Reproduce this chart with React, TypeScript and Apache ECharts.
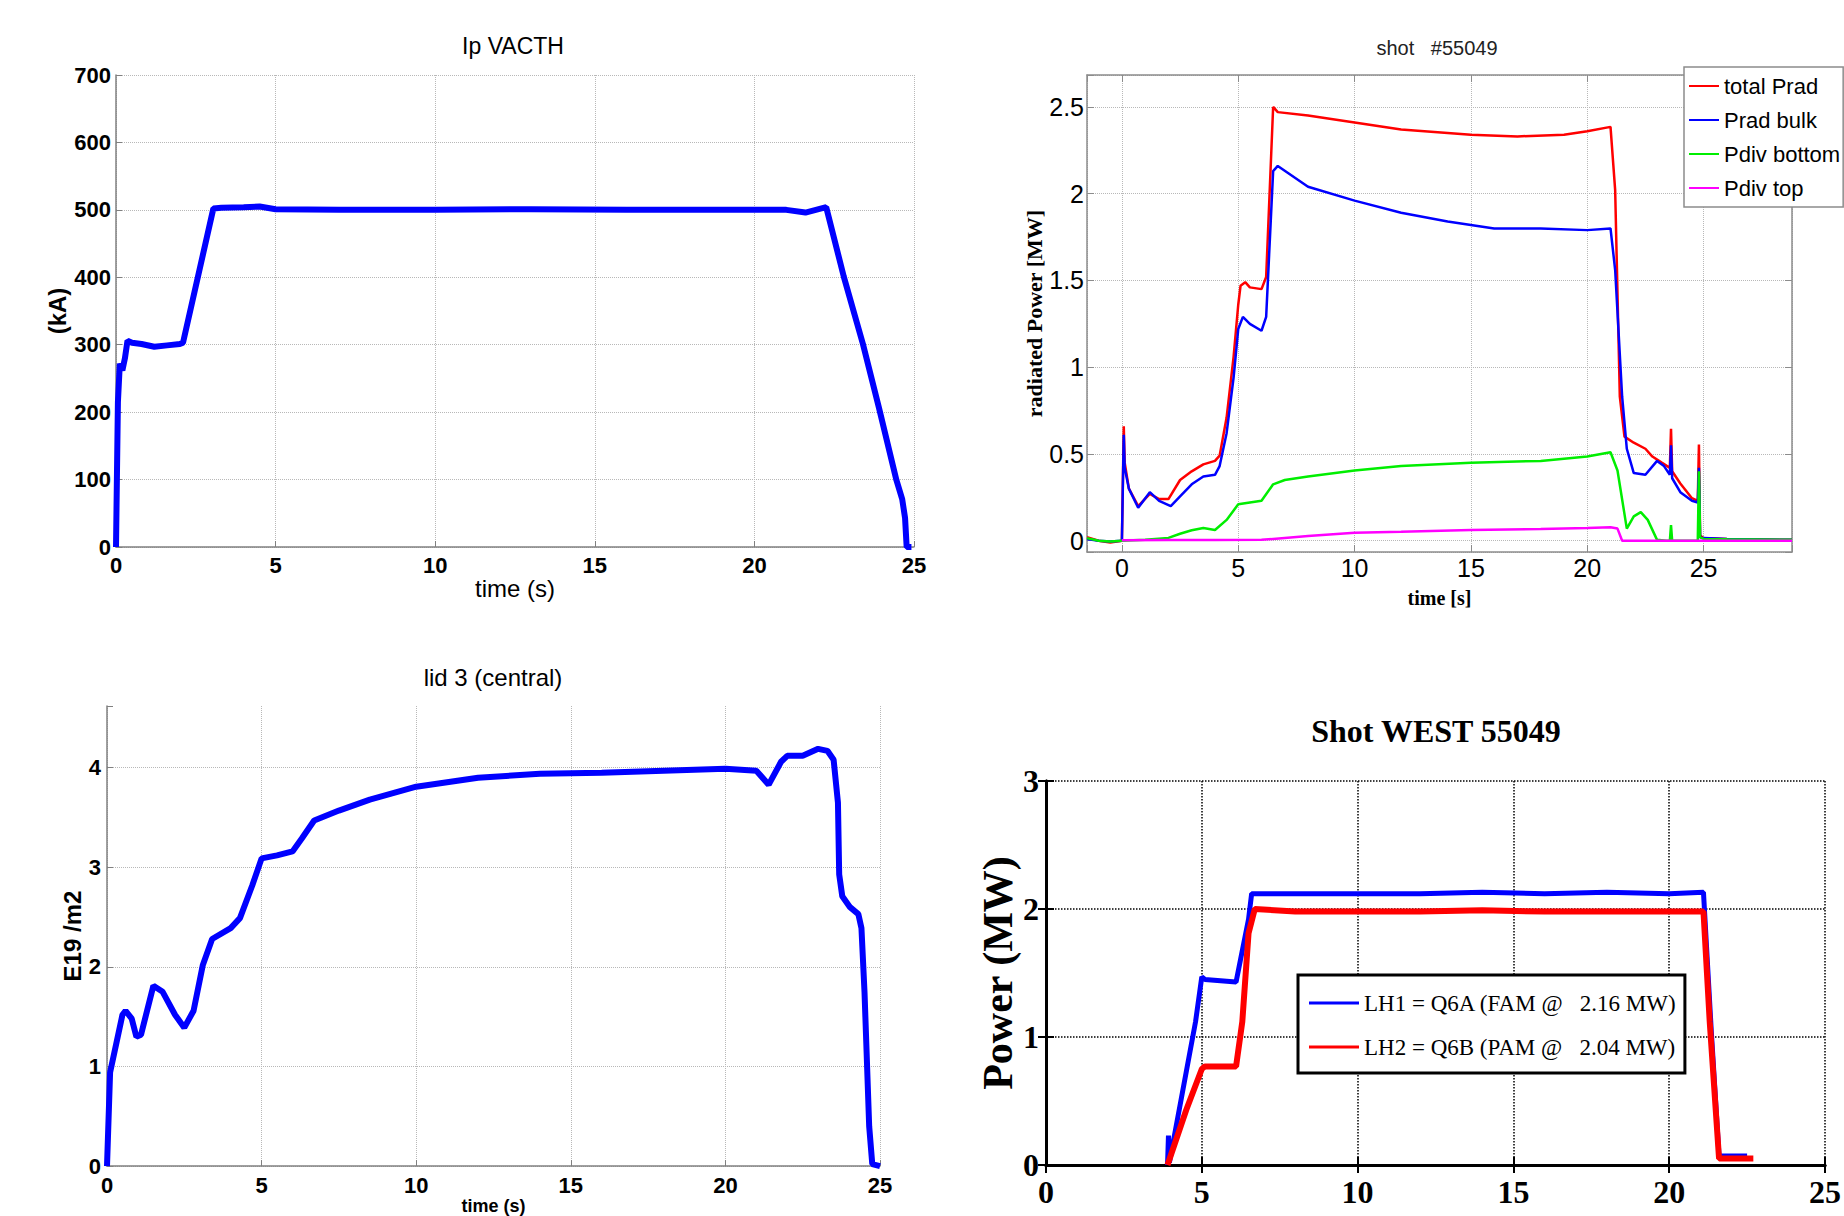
import { useEffect, useRef } from "react";
import * as echarts from "echarts";

// ---------- Top-left: Ip VACTH (kA vs time s) ----------
const ipTime = [0, 0.06, 0.12, 0.2, 0.28, 0.36, 0.5, 0.8, 1.2, 1.6, 2.0, 2.1, 3.05, 3.3, 4.0, 4.5, 5.0, 7, 10, 13, 16, 19, 21, 21.6, 22.25, 22.8, 23.4, 23.9, 24.45, 24.63, 24.72, 24.77, 24.92];
const ipValue = [0, 215, 272, 262, 280, 306, 303, 301, 297, 299, 301, 303, 502, 503, 504, 505, 501, 500, 500, 501, 500, 500, 500, 496, 504, 401, 301, 207, 99, 71, 43, 0, 0];

// ---------- Top-right: radiated power (MW vs time s) ----------
const pradTime = [-1.5, -1.0, -0.5, 0, 0.08, 0.12, 0.3, 0.7, 1.2, 1.6, 2.0, 2.5, 3.0, 3.5, 4.0, 4.2, 4.5, 4.8, 5.0, 5.1, 5.3, 5.5, 6.0, 6.2, 6.5, 6.7, 8, 10, 12, 15, 17, 19, 20, 21, 21.2, 21.4, 21.6, 22, 22.5, 22.8, 23.2, 23.55, 23.6, 23.65, 24, 24.5, 24.75, 24.8, 24.85, 25, 26, 28.8];
const pradValue = [0.02, 0.0, -0.01, 0.0, 0.66, 0.45, 0.3, 0.2, 0.27, 0.24, 0.24, 0.35, 0.4, 0.44, 0.46, 0.49, 0.71, 1.06, 1.36, 1.47, 1.49, 1.46, 1.45, 1.52, 2.5, 2.47, 2.45, 2.41, 2.37, 2.34, 2.33, 2.34, 2.36, 2.385, 2.02, 0.83, 0.6, 0.565, 0.53, 0.485, 0.45, 0.42, 0.645, 0.4, 0.33, 0.245, 0.23, 0.555, 0.03, 0.015, 0.01, 0.005];

const bulkTime = [-1.5, -1.0, -0.5, 0, 0.08, 0.12, 0.3, 0.7, 1.2, 1.6, 2.1, 2.5, 3.0, 3.5, 4.0, 4.2, 4.5, 4.8, 5.0, 5.2, 5.5, 6.0, 6.2, 6.5, 6.7, 8, 10, 12, 14, 16, 18, 20, 21, 21.2, 21.5, 21.7, 22, 22.5, 23, 23.3, 23.55, 23.6, 23.65, 24, 24.5, 24.75, 24.8, 24.85, 25, 26, 28.8];
const bulkValue = [0.01, 0.0, -0.005, 0.0, 0.61, 0.42, 0.3, 0.19, 0.28, 0.23, 0.2, 0.256, 0.325, 0.37, 0.38, 0.43, 0.62, 0.94, 1.22, 1.29, 1.25, 1.21, 1.29, 2.13, 2.16, 2.04, 1.96, 1.89, 1.84, 1.8, 1.8, 1.79, 1.8, 1.56, 0.83, 0.53, 0.39, 0.38, 0.46, 0.43, 0.38, 0.55, 0.36, 0.28, 0.23, 0.22, 0.42, 0.02, 0.015, 0.01, 0.005];

const divBottomTime = [-1.5, -1.0, -0.5, 0, 1, 2, 2.5, 3, 3.5, 4, 4.5, 5, 5.5, 6, 6.5, 7, 8, 10, 12, 15, 18, 20, 21, 21.3, 21.7, 22, 22.3, 22.6, 23, 23.4, 23.55, 23.6, 23.65, 24.75, 24.8, 24.85, 25, 26, 28.8];
const divBottomValue = [0.015, 0.0, -0.005, 0.0, 0.005, 0.016, 0.04, 0.06, 0.073, 0.062, 0.12, 0.21, 0.22, 0.23, 0.325, 0.35, 0.37, 0.405, 0.43, 0.45, 0.46, 0.485, 0.51, 0.405, 0.07, 0.14, 0.165, 0.12, 0.005, 0, 0, 0.09, 0, 0, 0.4, 0.02, 0.01, 0.008, 0.005];

const divTopTime = [0, 2, 4, 6, 7, 8, 10, 12, 15, 18, 20, 21, 21.3, 21.5, 25, 28.8];
const divTopValue = [0.003, 0.004, 0.004, 0.005, 0.016, 0.027, 0.046, 0.052, 0.062, 0.068, 0.073, 0.078, 0.07, 0.0, 0.0, 0.0];

// ---------- Bottom-left: lid 3 (central) density ----------
const nlTime = [0, 0.1, 0.3, 0.5, 0.6, 0.8, 0.95, 1.1, 1.5, 1.8, 2.2, 2.5, 2.8, 3.1, 3.4, 4.0, 4.3, 4.7, 5.0, 5.5, 6.0, 6.3, 6.7, 7.5, 8.5, 10, 12, 14, 16, 18, 20, 21, 21.4, 21.8, 22, 22.5, 23, 23.3, 23.5, 23.64, 23.68, 23.78, 24.03, 24.3, 24.4, 24.5, 24.65, 24.75, 25];
const nlValue = [0, 0.94, 1.23, 1.52, 1.56, 1.48, 1.3, 1.32, 1.81, 1.75, 1.52, 1.39, 1.56, 2.02, 2.28, 2.39, 2.49, 2.82, 3.09, 3.12, 3.16, 3.29, 3.47, 3.57, 3.68, 3.81, 3.9, 3.94, 3.95, 3.97, 3.99, 3.97, 3.83, 4.06, 4.12, 4.12, 4.19, 4.17, 4.08, 3.65, 2.93, 2.71, 2.6, 2.53, 2.39, 1.74, 0.4, 0.02, 0];

// ---------- Bottom-right: LH power ----------
const lh1Time = [3.9, 3.93, 3.96, 4.0, 4.8, 5.0, 5.1, 6.1, 6.5, 6.6, 8, 10, 12, 14, 16, 18, 20, 21.1, 21.35, 21.6, 21.7, 22.5];
const lh1Value = [0, 0.23, 0.02, 0.07, 1.12, 1.47, 1.45, 1.43, 1.92, 2.12, 2.12, 2.12, 2.12, 2.13, 2.12, 2.13, 2.12, 2.13, 1.05, 0.07, 0.07, 0.07];
const lh2Time = [3.9, 4.5, 5.0, 5.1, 6.1, 6.3, 6.5, 6.7, 8, 10, 12, 14, 16, 18, 20, 21.1, 21.3, 21.6, 22.7];
const lh2Value = [0, 0.43, 0.75, 0.77, 0.77, 1.12, 1.81, 2.0, 1.98, 1.98, 1.98, 1.99, 1.98, 1.98, 1.98, 1.98, 1.12, 0.05, 0.05];

const sradNames = ["total Prad", "Prad bulk", "Pdiv bottom", "Pdiv top"];
const lhNames = ["LH1 = Q6A (FAM @   2.16 MW)", "LH2 = Q6B (PAM @   2.04 MW)"];

const SANS = "'Liberation Sans', Arial, Helvetica, sans-serif";
const SERIF = "'Liberation Serif', 'Times New Roman', serif";

function pairs(t: number[], v: number[]) {
  return t.map((x, i) => [x, v[i]]);
}
function multipleOf(step: number) {
  return (v: number) => {
    const k = v / step;
    return Math.abs(k - Math.round(k)) < 1e-6 ? String(Math.round(k) * step) : "";
  };
}

function buildOption(): any {
  const grayAxis = "#808080";
  const dotted = { show: true, lineStyle: { type: "dotted", color: "#b8b8b8", width: 1 } };
  const boldSans = (size: number) => ({ fontFamily: SANS, fontSize: size, fontWeight: "bold", color: "#000" });

  const title = (text: string, x: number, y: number, size: number, family: string, weight: string, fill = "#000") => ({
    type: "text",
    x,
    y,
    style: { text, fontSize: size, fontFamily: family, fontWeight: weight, fill, align: "center", verticalAlign: "middle" },
  });

  return {
    animation: false,
    backgroundColor: "#ffffff",
    graphic: [
      title("Ip VACTH", 513, 46, 23, SANS, "normal"),
      title("shot   #55049", 1437, 48, 20, SANS, "normal", "#222"),
      title("lid 3 (central)", 493, 677, 24, SANS, "normal"),
      title("Shot WEST 55049", 1436, 731, 32, SERIF, "bold"),
    ],
    grid: [
      { left: 116, top: 75, width: 798, height: 472 },
      { left: 1087, top: 75, width: 705, height: 477 },
      { left: 107, top: 706, width: 773, height: 472 },
      { left: 1046, top: 781, width: 785, height: 384 },
    ],
    xAxis: [
      {
        gridIndex: 0, type: "value", min: 0, max: 25, interval: 5,
        axisLine: { show: true, lineStyle: { color: grayAxis, width: 1.5 } },
        axisTick: { show: true, inside: true, length: 6, lineStyle: { color: grayAxis } },
        axisLabel: { ...boldSans(22), margin: 7 },
        splitLine: dotted,
        name: "time (s)", nameLocation: "middle", nameGap: 19,
        nameTextStyle: { fontFamily: SANS, fontSize: 24, color: "#000" },
      },
      {
        gridIndex: 1, type: "value", min: -1.5, max: 28.8, minInterval: 5, maxInterval: 5,
        axisLine: { show: true, onZero: false, lineStyle: { color: "#8c8c8c", width: 1.5 } },
        axisTick: { show: true, inside: true, length: 7, lineStyle: { color: "#8c8c8c" } },
        axisLabel: { fontFamily: SANS, fontSize: 25, color: "#000", margin: 3, formatter: multipleOf(5) },
        splitLine: dotted,
        name: "time [s]", nameLocation: "middle", nameGap: 36,
        nameTextStyle: { fontFamily: SERIF, fontSize: 20, fontWeight: "bold", color: "#000" },
      },
      {
        gridIndex: 1, type: "value", position: "top", min: -1.5, max: 28.8, minInterval: 5, maxInterval: 5,
        axisLine: { show: true, onZero: false, lineStyle: { color: "#8c8c8c", width: 1.5 } },
        axisTick: { show: true, inside: true, length: 7, lineStyle: { color: "#8c8c8c" } },
        axisLabel: { show: false }, splitLine: { show: false },
      },
      {
        gridIndex: 2, type: "value", min: 0, max: 25, interval: 5,
        axisLine: { show: true, lineStyle: { color: grayAxis, width: 1.5 } },
        axisTick: { show: true, inside: true, length: 6, lineStyle: { color: grayAxis } },
        axisLabel: { ...boldSans(22), margin: 8 },
        splitLine: dotted,
        name: "time (s)", nameLocation: "middle", nameGap: 25,
        nameTextStyle: { fontFamily: SANS, fontSize: 18, fontWeight: "bold", color: "#000" },
      },
      {
        gridIndex: 3, type: "value", min: 0, max: 25, interval: 5,
        axisLine: { show: true, lineStyle: { color: "#000", width: 3 } },
        axisTick: { show: true, inside: true, length: 8, lineStyle: { color: "#000", width: 2 } },
        axisLabel: { fontFamily: SERIF, fontSize: 32, fontWeight: "bold", color: "#000", margin: 11 },
        splitLine: { show: true, lineStyle: { type: "dotted", color: "#000", width: 1.5 } },
      },
      {
        gridIndex: 3, type: "value", position: "top", min: 0, max: 25, interval: 5,
        axisLine: { show: true, lineStyle: { color: "#000", width: 3 } },
        axisTick: { show: true, inside: true, length: 8, lineStyle: { color: "#000", width: 2 } },
        axisLabel: { show: false }, splitLine: { show: false },
      },
    ],
    yAxis: [
      {
        gridIndex: 0, type: "value", min: 0, max: 700, interval: 100,
        axisLine: { show: true, lineStyle: { color: grayAxis, width: 1.5 } },
        axisTick: { show: true, inside: true, length: 6, lineStyle: { color: grayAxis } },
        axisLabel: { ...boldSans(22), margin: 5 },
        splitLine: dotted,
        name: "(kA)", nameLocation: "middle", nameGap: 47,
        nameTextStyle: { fontFamily: SANS, fontSize: 24, fontWeight: "bold", color: "#000" },
      },
      {
        gridIndex: 1, type: "value", min: -0.065, max: 2.684, minInterval: 0.5, maxInterval: 0.5,
        axisLine: { show: true, onZero: false, lineStyle: { color: "#8c8c8c", width: 1.5 } },
        axisTick: { show: true, inside: true, length: 7, lineStyle: { color: "#8c8c8c" } },
        axisLabel: { fontFamily: SANS, fontSize: 25, color: "#000", margin: 3, formatter: multipleOf(0.5) },
        splitLine: dotted,
        name: "radiated Power [MW]", nameLocation: "middle", nameGap: 36,
        nameTextStyle: { fontFamily: SERIF, fontSize: 22, fontWeight: "bold", color: "#000" },
      },
      {
        gridIndex: 1, type: "value", position: "right", min: -0.065, max: 2.684, minInterval: 0.5, maxInterval: 0.5,
        axisLine: { show: true, onZero: false, lineStyle: { color: "#8c8c8c", width: 1.5 } },
        axisTick: { show: true, inside: true, length: 7, lineStyle: { color: "#8c8c8c" } },
        axisLabel: { show: false }, splitLine: { show: false },
      },
      {
        gridIndex: 2, type: "value", min: 0, max: 4.62, minInterval: 1, maxInterval: 1,
        axisLine: { show: true, lineStyle: { color: grayAxis, width: 1.5 } },
        axisTick: { show: true, inside: true, length: 6, lineStyle: { color: grayAxis } },
        axisLabel: { ...boldSans(22), margin: 6, formatter: multipleOf(1) },
        splitLine: { ...dotted, showMaxLine: false },
        name: "E19 /m2", nameLocation: "middle", nameGap: 20,
        nameTextStyle: { fontFamily: SANS, fontSize: 24, fontWeight: "bold", color: "#000" },
      },
      {
        gridIndex: 3, type: "value", min: 0, max: 3, interval: 1,
        axisLine: { show: true, lineStyle: { color: "#000", width: 3 } },
        axisTick: { show: true, inside: true, length: 8, lineStyle: { color: "#000", width: 2 } },
        axisLabel: { fontFamily: SERIF, fontSize: 32, fontWeight: "bold", color: "#000", margin: 7 },
        splitLine: { show: true, lineStyle: { type: "dotted", color: "#000", width: 1.5 } },
        name: "Power (MW)", nameLocation: "middle", nameGap: 19,
        nameTextStyle: { fontFamily: SERIF, fontSize: 42, fontWeight: "bold", color: "#000" },
      },
      {
        gridIndex: 3, type: "value", position: "right", min: 0, max: 3, interval: 1,
        axisLine: { show: true, lineStyle: { color: "#000", width: 3 } },
        axisTick: { show: true, inside: true, length: 8, lineStyle: { color: "#000", width: 2 } },
        axisLabel: { show: false }, splitLine: { show: false },
      },
    ],
    legend: [
      {
        data: sradNames, left: 1684, top: 67, orient: "vertical", selectedMode: false,
        icon: "rect", itemWidth: 30, itemHeight: 2, itemGap: 8,
        padding: [6, 3, 6, 5], backgroundColor: "#fff", borderColor: "#8c8c8c", borderWidth: 1.5,
        textStyle: { fontFamily: SANS, fontSize: 22, color: "#000", lineHeight: 26 },
      },
      {
        data: lhNames, left: 1298, top: 975, orient: "vertical", selectedMode: false,
        icon: "rect", itemWidth: 50, itemHeight: 3, itemGap: 14,
        padding: [13, 8, 11, 11], backgroundColor: "#fff", borderColor: "#000", borderWidth: 3,
        textStyle: { fontFamily: SERIF, fontSize: 23, color: "#000", lineHeight: 30 },
      },
    ],
    series: [
      {
        name: "Ip", type: "line", xAxisIndex: 0, yAxisIndex: 0, showSymbol: false, symbol: "none",
        data: pairs(ipTime, ipValue), lineStyle: { color: "#0000ff", width: 6 }, itemStyle: { color: "#0000ff" },
      },
      {
        name: sradNames[0], type: "line", xAxisIndex: 1, yAxisIndex: 1, showSymbol: false, symbol: "none",
        data: pairs(pradTime, pradValue), lineStyle: { color: "#ff0000", width: 2.5 }, itemStyle: { color: "#ff0000" },
      },
      {
        name: sradNames[1], type: "line", xAxisIndex: 1, yAxisIndex: 1, showSymbol: false, symbol: "none",
        data: pairs(bulkTime, bulkValue), lineStyle: { color: "#0000ff", width: 2.5 }, itemStyle: { color: "#0000ff" },
      },
      {
        name: sradNames[2], type: "line", xAxisIndex: 1, yAxisIndex: 1, showSymbol: false, symbol: "none",
        data: pairs(divBottomTime, divBottomValue), lineStyle: { color: "#00ee00", width: 2.5 }, itemStyle: { color: "#00ee00" },
      },
      {
        name: sradNames[3], type: "line", xAxisIndex: 1, yAxisIndex: 1, showSymbol: false, symbol: "none",
        data: pairs(divTopTime, divTopValue), lineStyle: { color: "#ff00ff", width: 2.5 }, itemStyle: { color: "#ff00ff" },
      },
      {
        name: "lid 3", type: "line", xAxisIndex: 3, yAxisIndex: 3, showSymbol: false, symbol: "none",
        data: pairs(nlTime, nlValue), lineStyle: { color: "#0000ff", width: 6 }, itemStyle: { color: "#0000ff" },
      },
      {
        name: lhNames[0], type: "line", xAxisIndex: 4, yAxisIndex: 4, showSymbol: false, symbol: "none",
        data: pairs(lh1Time, lh1Value), lineStyle: { color: "#0000ff", width: 5 }, itemStyle: { color: "#0000ff" },
      },
      {
        name: lhNames[1], type: "line", xAxisIndex: 4, yAxisIndex: 4, showSymbol: false, symbol: "none",
        data: pairs(lh2Time, lh2Value), lineStyle: { color: "#ff0000", width: 6 }, itemStyle: { color: "#ff0000" },
      },
    ],
  };
}

export default function App() {
  const ref = useRef<HTMLDivElement>(null);
  useEffect(() => {
    if (!ref.current) return;
    const chart = echarts.init(ref.current, null, { renderer: "svg" });
    chart.setOption(buildOption());
    return () => {
      chart.dispose();
    };
  }, []);
  return (
    <div
      ref={ref}
      style={{ position: "absolute", left: 0, top: 0, width: 1844, height: 1216, background: "#fff", overflow: "hidden" }}
    />
  );
}
